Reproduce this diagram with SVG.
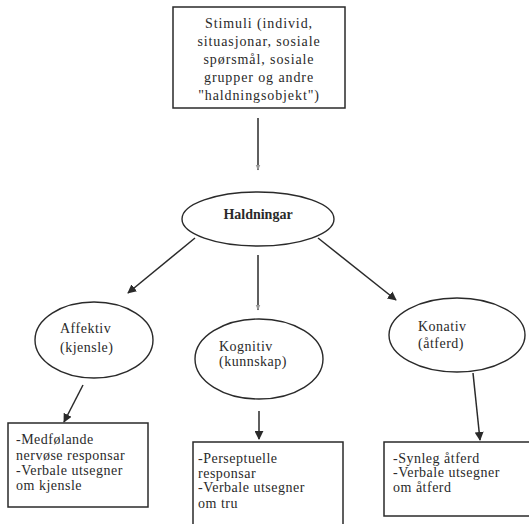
<svg xmlns="http://www.w3.org/2000/svg" width="529" height="524" viewBox="0 0 529 524">
<defs>
<style>
.box{fill:#fff;stroke:#2a2a2a;stroke-width:1.5}
.ell{fill:#fff;stroke:#2a2a2a;stroke-width:1.4}
.t{font-family:"Liberation Serif","Times New Roman",serif;font-size:14px;letter-spacing:0.5px;fill:#2a2a2a}
.w{letter-spacing:0.9px}
.tc{text-anchor:middle}
.b{font-weight:bold;letter-spacing:0}
.c{stroke:#2a2a2a;stroke-width:1.5;fill:none}
</style>
<marker id="ah" viewBox="0 0 10 10" refX="9" refY="5" markerWidth="9" markerHeight="9" markerUnits="userSpaceOnUse" orient="auto"><path d="M0,0 L10,5 L0,10 z" fill="#2a2a2a"/></marker>
<marker id="fa" viewBox="0 0 10 10" refX="9" refY="5" markerWidth="6" markerHeight="6" markerUnits="userSpaceOnUse" orient="auto"><path d="M0,1 L10,5 L0,9 z" fill="#9a9a9a"/></marker>
</defs>
<rect width="529" height="524" fill="#fff"/>
<g id="connectors">
<line class="c" x1="258" y1="118" x2="258" y2="170" marker-end="url(#fa)"/>
<line class="c" x1="195" y1="238" x2="128" y2="293" marker-end="url(#ah)"/>
<line class="c" x1="258" y1="255" x2="258" y2="310" marker-end="url(#fa)"/>
<line class="c" x1="318" y1="238" x2="396" y2="300" marker-end="url(#ah)"/>
<line class="c" x1="83" y1="385" x2="64" y2="422" marker-end="url(#ah)"/>
<line class="c" x1="259" y1="411" x2="259" y2="439" marker-end="url(#ah)"/>
<line class="c" x1="473" y1="373" x2="480" y2="440" marker-end="url(#ah)"/>
</g>
<g id="stimuli">
<rect class="box" x="173" y="7" width="172" height="101"/>
<text class="t w tc" x="259" y="28">Stimuli (individ,</text>
<text class="t w tc" x="259" y="46">situasjonar, sosiale</text>
<text class="t w tc" x="259" y="64">spørsmål, sosiale</text>
<text class="t w tc" x="259" y="82">grupper og andre</text>
<text class="t w tc" x="259" y="100">"haldningsobjekt")</text>
</g>
<g id="haldningar">
<ellipse class="ell" cx="258" cy="219" rx="76" ry="27"/>
<text class="t tc b" x="258" y="219">Haldningar</text>
</g>
<g id="affektiv">
<ellipse class="ell" cx="94" cy="340" rx="59" ry="38"/>
<text class="t" x="60" y="333">Affektiv</text>
<text class="t" x="60" y="352">(kjensle)</text>
</g>
<g id="kognitiv">
<ellipse class="ell" cx="259" cy="359" rx="64" ry="40"/>
<text class="t" x="219" y="351">Kognitiv</text>
<text class="t" x="219" y="366">(kunnskap)</text>
</g>
<g id="konativ">
<ellipse class="ell" cx="457" cy="335" rx="68" ry="37"/>
<text class="t" x="418" y="331">Konativ</text>
<text class="t" x="418" y="348">(åtferd)</text>
</g>
<g id="box-affektiv">
<rect class="box" x="8" y="423" width="140" height="84"/>
<text class="t" x="16" y="444">-Medfølande</text>
<text class="t" x="16" y="460">nervøse responsar</text>
<text class="t" x="16" y="475">-Verbale utsegner</text>
<text class="t" x="16" y="490">om kjensle</text>
</g>
<g id="box-kognitiv">
<rect class="box" x="193" y="442" width="150" height="90"/>
<text class="t" x="198" y="463">-Perseptuelle</text>
<text class="t" x="198" y="478">responsar</text>
<text class="t" x="198" y="492">-Verbale utsegner</text>
<text class="t" x="198" y="508">om tru</text>
</g>
<g id="box-konativ">
<rect class="box" x="384" y="442" width="150" height="74"/>
<text class="t" x="393" y="463">-Synleg åtferd</text>
<text class="t" x="393" y="477">-Verbale utsegner</text>
<text class="t" x="393" y="492">om åtferd</text>
</g>
</svg>
